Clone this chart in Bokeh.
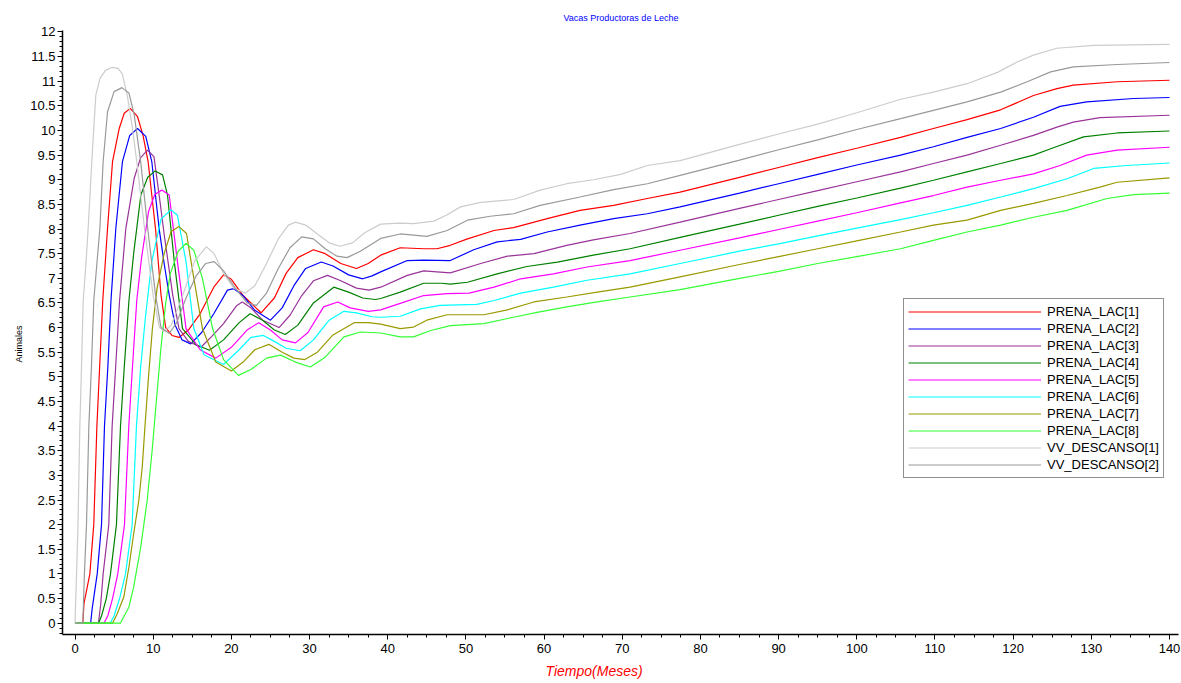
from bokeh.plotting import figure
from bokeh.models import Range1d, FixedTicker, NumeralTickFormatter, Legend, LegendItem, Title
from bokeh.embed import file_html
from bokeh.resources import INLINE

# ---------------- data (t in months, value in animals) ----------------
PRENA_LAC_1 = [(0,0),(1.0,0),(1.15,0.4),(1.9,1.0),(2.4,2.0),(2.8,4.0),(3.15,5.2),(3.55,6.55),(4.16,8.01),(4.8,9.37),
    (5.65,10.04),(6.3,10.35),(7.06,10.45),(8.0,10.28),(8.7,9.9),(9.35,9.37),(10.3,8.0),(11.0,6.66),(11.6,6.0),(12.4,5.84),
    (13.3,5.8),(14.5,5.95),(16.0,6.28),(17.75,6.82),(19.0,7.07),(20.0,6.98),(21.5,6.65),(23.8,6.3),(25.5,6.6),(27.0,7.1),
    (28.5,7.42),(30.5,7.58),(32.0,7.5),(34.0,7.3),(36.0,7.2),(37.5,7.3),(39.1,7.47),(41.6,7.62),(44.6,7.6),(46.3,7.6),
    (48.0,7.67),(50.2,7.8),(53.6,7.97),(56.1,8.03),(60.4,8.21),(64.6,8.38),(68.9,8.48),(73.2,8.62),(77.4,8.75),(85,9.05),
    (90,9.25),(95,9.45),(100,9.64),(105.6,9.86),(109.8,10.04),(114.1,10.22),(118.4,10.42),(122.6,10.71),(125.6,10.85),
    (127.7,10.92),(133.3,10.99),(140,11.02)]

PRENA_LAC_2 = [(0,0),(2.0,0),(2.2,0.3),(2.84,1.0),(3.39,2.0),(3.77,4.0),(4.2,5.2),(4.6,6.55),(5.22,8.01),(6.07,9.37),
    (7.0,9.9),(8.0,10.04),(9.05,9.88),(9.82,9.37),(10.76,8.01),(11.4,7.3),(12.05,6.66),(12.8,6.05),(13.7,5.75),(14.8,5.67),
    (16.2,5.9),(17.75,6.28),(19.5,6.76),(20.3,6.79),(21.5,6.65),(23.0,6.35),(25.0,6.15),(26.5,6.4),(28.0,6.85),(29.5,7.2),
    (31.5,7.33),(33.0,7.25),(35.0,7.07),(36.8,6.99),(38.0,7.05),(39.1,7.13),(42.5,7.36),(44.6,7.37),(48.0,7.36),(51.0,7.58),
    (54.0,7.74),(57.0,7.79),(60.4,7.94),(64.6,8.08),(68.9,8.21),(73.2,8.31),(77.4,8.45),(85,8.73),(90,8.92),(95,9.11),
    (100,9.3),(105.6,9.5),(109.8,9.67),(114.1,9.86),(118.4,10.04),(122.6,10.27),(126.0,10.49),(129.4,10.58),(135.4,10.65),
    (140,10.67)]

PRENA_LAC_3 = [(0,0),(3.0,0),(3.3,0.4),(3.6,1.0),(4.32,2.0),(4.75,4.0),(5.2,5.2),(5.7,6.55),(6.5,8.01),(7.57,9.03),
    (8.4,9.45),(9.27,9.6),(10.1,9.47),(10.76,8.69),(11.4,7.9),(12.5,6.66),(13.3,5.98),(14.5,5.72),(16.1,5.6),(17.5,5.82),
    (19.0,6.08),(20.7,6.45),(21.4,6.52),(22.5,6.4),(24.0,6.15),(26.1,6.0),(27.5,6.25),(29.0,6.65),(30.5,6.95),(32.3,7.06),
    (34.0,6.95),(36.0,6.8),(37.6,6.76),(39.1,6.82),(42.5,7.06),(44.6,7.15),(48.0,7.11),(51.9,7.3),(55.3,7.45),(58.7,7.5),
    (62.9,7.67),(66.3,7.78),(71.0,7.91),(77.4,8.14),(85,8.42),(90,8.6),(95,8.78),(100,8.96),(105.6,9.16),(109.8,9.33),
    (114.1,9.5),(118.4,9.7),(122.6,9.9),(125.6,10.07),(127.7,10.17),(131.1,10.26),(140,10.31)]

PRENA_LAC_4 = [(0,0),(3.0,0),(3.4,0.15),(4.0,0.5),(4.54,1.0),(5.3,2.0),(5.82,4.0),(6.3,5.2),(6.9,6.55),(7.5,7.5),
    (8.42,8.69),(9.3,9.05),(10.25,9.18),(11.2,9.1),(11.83,8.69),(12.7,7.34),(13.75,5.98),(15.5,5.65),(17.2,5.54),(19.0,5.75),
    (21.0,6.1),(22.4,6.28),(24.0,6.15),(25.5,5.95),(26.9,5.86),(28.5,6.05),(30.5,6.5),(33.1,6.82),(35.0,6.72),(36.8,6.6),
    (38.4,6.57),(39.1,6.59),(41.6,6.72),(44.6,6.9),(46.9,6.9),(48.0,6.88),(50.2,6.92),(54.0,7.09),(57.8,7.24),(61.7,7.33),
    (66.3,7.47),(71.0,7.6),(77.4,7.83),(85,8.1),(90,8.28),(95,8.46),(100,8.63),(105.6,8.83),(109.8,8.99),(114.1,9.16),
    (118.4,9.33),(122.6,9.5),(124.8,9.63),(129.0,9.87),(133.3,9.95),(140,9.99)]

PRENA_LAC_5 = [(0,0),(3.7,0),(4.2,0.15),(4.8,0.5),(5.47,1.0),(6.33,2.0),(6.88,4.0),(7.35,5.2),(7.9,6.55),(8.5,7.4),
    (9.4,8.35),(10.2,8.7),(11.1,8.79),(12.05,8.69),(13.1,7.34),(14.2,5.98),(16.0,5.55),(18.0,5.38),(20.0,5.6),(22.0,5.95),
    (23.5,6.1),(25.0,5.95),(26.5,5.75),(28.2,5.69),(29.8,5.9),(31.8,6.42),(33.6,6.52),(35.2,6.4),(37.5,6.33),(39.1,6.36),
    (41.6,6.49),(44.6,6.65),(47.6,6.69),(50.4,6.7),(53.6,6.82),(57.0,6.99),(61.2,7.09),(65.5,7.23),(71.0,7.36),(77.4,7.57),
    (85,7.82),(90,7.99),(95,8.16),(100,8.33),(105.6,8.53),(109.8,8.68),(114.1,8.85),(118.4,8.99),(122.6,9.12),(126.0,9.29),
    (129.4,9.5),(133.3,9.6),(140,9.66)]

PRENA_LAC_6 = [(0,0),(4.5,0),(5.0,0.15),(5.7,0.5),(6.46,1.0),(7.31,2.0),(7.86,4.0),(8.4,5.2),(9.0,6.2),(9.82,7.34),
    (11.0,8.2),(12.25,8.39),(13.1,8.28),(14.2,7.34),(15.2,5.98),(16.5,5.45),(19.0,5.25),(21.0,5.55),(22.5,5.8),(24.1,5.84),
    (25.5,5.72),(27.0,5.58),(28.8,5.53),(30.5,5.75),(32.5,6.15),(34.4,6.33),(36.0,6.3),(38.0,6.22),(39.1,6.21),(41.6,6.23),
    (44.2,6.38),(46.7,6.45),(51.4,6.47),(53.6,6.55),(57.0,6.7),(61.2,6.82),(65.5,6.96),(71.0,7.09),(77.4,7.3),(85,7.55),
    (90,7.7),(95,7.86),(100,8.02),(105.6,8.19),(109.8,8.33),(114.1,8.48),(118.4,8.65),(122.6,8.82),(126.9,9.02),(130.3,9.23),
    (134.5,9.29),(140,9.34)]

PRENA_LAC_7 = [(0,0),(4.8,0),(5.4,0.19),(6.24,0.53),(6.9,1.14),(7.5,1.81),(8.16,2.49),(8.6,3.17),(8.95,4.0),(9.4,5.0),
    (9.9,5.98),(10.5,6.8),(11.4,7.5),(12.3,7.95),(13.3,8.05),(14.26,7.91),(15.2,7.0),(16.3,5.98),(18.0,5.3),(20.0,5.12),
    (21.5,5.3),(23.0,5.55),(24.8,5.66),(26.5,5.5),(28.0,5.38),(29.4,5.35),(31.0,5.5),(33.0,5.85),(35.7,6.1),(37.5,6.1),
    (39.1,6.07),(41.6,5.98),(43.3,6.01),(45.0,6.15),(47.6,6.26),(52.3,6.26),(55.3,6.36),(58.7,6.52),(62.9,6.62),(66.8,6.72),
    (71.0,6.82),(77.4,7.03),(85,7.28),(90,7.44),(95,7.6),(100,7.76),(105.6,7.94),(109.8,8.08),(114.1,8.18),(118.4,8.38),
    (122.6,8.52),(126.9,8.68),(131.1,8.85),(133.3,8.95),(140,9.04)]

PRENA_LAC_8 = [(0,0),(5.8,0),(6.9,0.33),(7.5,0.73),(8.4,1.54),(9.23,2.49),(9.87,3.51),(10.4,4.5),(11.0,5.6),(11.6,6.5),
    (12.2,7.1),(13.2,7.55),(14.2,7.71),(15.2,7.57),(16.3,7.0),(17.6,5.98),(19.0,5.35),(20.9,5.03),(22.5,5.15),(24.5,5.38),
    (26.3,5.44),(28.2,5.3),(30.1,5.2),(32.0,5.4),(34.4,5.81),(36.5,5.91),(39.1,5.89),(41.6,5.81),(43.3,5.81),(45.5,5.94),
    (48.0,6.04),(52.3,6.08),(56.1,6.21),(59.1,6.31),(62.9,6.42),(66.8,6.52),(71.0,6.62),(77.4,6.77),(85,7.0),(90,7.14),
    (95,7.3),(100,7.44),(105.6,7.6),(109.8,7.77),(114.1,7.94),(118.4,8.08),(122.6,8.24),(126.9,8.38),(132.0,8.62),
    (135.4,8.7),(140,8.73)]

VV_DESCANSO_1 = [(0,0),(0.2,1.0),(0.38,2.0),(0.62,4.0),(0.83,5.2),(1.05,6.55),(1.4,7.3),(1.68,8.01),(2.15,9.37),(2.66,10.72),
    (3.2,11.06),(3.9,11.22),(4.7,11.28),(5.5,11.26),(6.05,11.15),(6.7,10.7),(7.3,10.1),(7.9,9.37),(8.9,8.0),(10.0,6.65),
    (10.8,6.0),(11.4,5.92),(12.3,6.05),(13.3,6.45),(14.3,6.89),(15.3,7.35),(16.8,7.64),(17.8,7.5),(19.0,7.1),(20.3,6.8),
    (21.8,6.7),(23.0,6.85),(24.5,7.3),(26.0,7.8),(27.3,8.08),(28.2,8.14),(29.5,8.08),(31.0,7.9),(32.5,7.72),(33.9,7.65),
    (35.5,7.72),(37.0,7.92),(39.1,8.1),(41.5,8.12),(43.3,8.11),(45.9,8.16),(47.5,8.28),(49.3,8.45),(51.9,8.54),(56.1,8.6),
    (59.5,8.79),(62.9,8.92),(66.3,9.0),(69.8,9.11),(73.2,9.29),(77.4,9.39),(85,9.72),(90,9.93),(95,10.13),(100,10.36),
    (105.5,10.63),(109.8,10.78),(114.1,10.95),(118,11.18),(120.5,11.39),(122.6,11.53),(125.6,11.67),(130.3,11.73),
    (135,11.74),(140,11.75)]

VV_DESCANSO_2 = [(0,0),(1.0,0),(1.2,1.0),(1.47,2.0),(1.77,4.0),(2.1,5.2),(2.4,6.55),(2.8,7.3),(3.18,8.01),(3.6,9.37),
    (4.16,10.38),(5.0,10.79),(6.0,10.87),(6.9,10.76),(7.57,10.32),(8.4,9.37),(9.3,8.01),(10.3,6.66),(11.0,6.0),(12.05,5.88),
    (13.0,6.1),(14.2,6.6),(15.5,7.05),(16.7,7.3),(17.8,7.34),(19.0,7.15),(20.5,6.8),(22.0,6.5),(23.2,6.45),(24.5,6.7),
    (26.0,7.2),(27.5,7.62),(29.0,7.84),(30.5,7.8),(32.0,7.6),(33.5,7.45),(34.8,7.42),(36.5,7.55),(39.1,7.81),(41.6,7.9),
    (45.0,7.85),(47.6,7.97),(50.2,8.18),(53.1,8.26),(56.1,8.31),(59.5,8.48),(64.6,8.65),(68.9,8.8),(73.2,8.92),(77.4,9.09),
    (85,9.4),(90,9.61),(95,9.81),(100,10.02),(105.6,10.24),(109.8,10.41),(114.1,10.58),(118.4,10.78),(121.8,10.99),
    (124.8,11.19),(127.7,11.29),(133.3,11.34),(140,11.38)]

SERIES_NAMES = ["PRENA_LAC[1]", "PRENA_LAC[2]", "PRENA_LAC[3]", "PRENA_LAC[4]", "PRENA_LAC[5]",
                "PRENA_LAC[6]", "PRENA_LAC[7]", "PRENA_LAC[8]", "VV_DESCANSO[1]", "VV_DESCANSO[2]"]
SERIES_DATA = [PRENA_LAC_1, PRENA_LAC_2, PRENA_LAC_3, PRENA_LAC_4, PRENA_LAC_5,
               PRENA_LAC_6, PRENA_LAC_7, PRENA_LAC_8, VV_DESCANSO_1, VV_DESCANSO_2]
SERIES_COLORS = ["#FF0000", "#0000FF", "#993399", "#008000", "#FF00FF",
                 "#00FFFF", "#999900", "#33FF33", "#CCCCCC", "#999999"]

X_TICKS = list(range(0, 141, 10))
Y_TICKS = [i * 0.5 for i in range(25)]

FONT = "Liberation Sans"

# ---------------- figure ----------------
p = figure(width=1181, height=683, output_backend="svg", toolbar_location=None,
           x_range=Range1d(-1.6, 141.15), y_range=Range1d(-0.23, 12.03),
           min_border_left=62, min_border_right=3, min_border_top=30, min_border_bottom=49,
           background_fill_color="white", border_fill_color="white")
p.outline_line_color = None
p.grid.visible = False

p.title.text = "Vacas Productoras de Leche"
p.title.align = "left"
p.title.offset = 501
p.title.text_color = "#0000FF"
p.title.text_font = FONT
p.title.text_font_size = "9px"
p.title.text_font_style = "normal"
p.title.standoff = 15

# x axis
xa = p.xaxis[0]
xa.ticker = FixedTicker(ticks=X_TICKS, minor_ticks=[i * 2.5 for i in range(57)])
# y axis
ya = p.yaxis[0]
ya.ticker = FixedTicker(ticks=Y_TICKS, minor_ticks=[round(-0.2 + 0.1 * i, 1) for i in range(123)])
ya.formatter = NumeralTickFormatter(format="0.[0]")

for ax in (xa, ya):
    ax.axis_line_color = "black"
    ax.axis_line_width = 1.5
    ax.major_tick_line_color = "black"
    ax.minor_tick_line_color = "black"
    ax.major_tick_out = 5
    ax.major_tick_in = 0
    ax.minor_tick_out = 3
    ax.minor_tick_in = 0
    ax.major_label_text_font = FONT
    ax.major_label_text_font_size = "13px"
    ax.major_label_text_color = "black"
ya.major_label_standoff = 2
xa.major_label_standoff = 4

# axis titles as side titles, placed to match the original positions
p.add_layout(Title(text="Tiempo(Meses)", align="left", offset=483, text_color="#FF0000",
                   text_font=FONT, text_font_size="14px", text_font_style="italic", standoff=10), "below")
p.add_layout(Title(text="Animales", align="left", offset=272, text_color="black",
                   text_font=FONT, text_font_size="9px", text_font_style="normal", standoff=7), "left")

items = []
for name, data, color in zip(SERIES_NAMES, SERIES_DATA, SERIES_COLORS):
    xs = [d[0] for d in data]
    ys = [d[1] for d in data]
    r = p.line(xs, ys, line_color=color, line_width=1.2)
    items.append(LegendItem(label=name, renderers=[r]))

legend = Legend(items=items, location=(841, 156), orientation="vertical",
                glyph_width=133, glyph_height=17, label_height=17, spacing=0, padding=4,
                label_standoff=6, margin=0,
                label_text_font=FONT, label_text_font_size="13px", label_text_color="black",
                border_line_color="#222222", border_line_width=1, background_fill_color="white",
                background_fill_alpha=1.0)
p.add_layout(legend)

open("out.html", "w").write(file_html(p, INLINE))
